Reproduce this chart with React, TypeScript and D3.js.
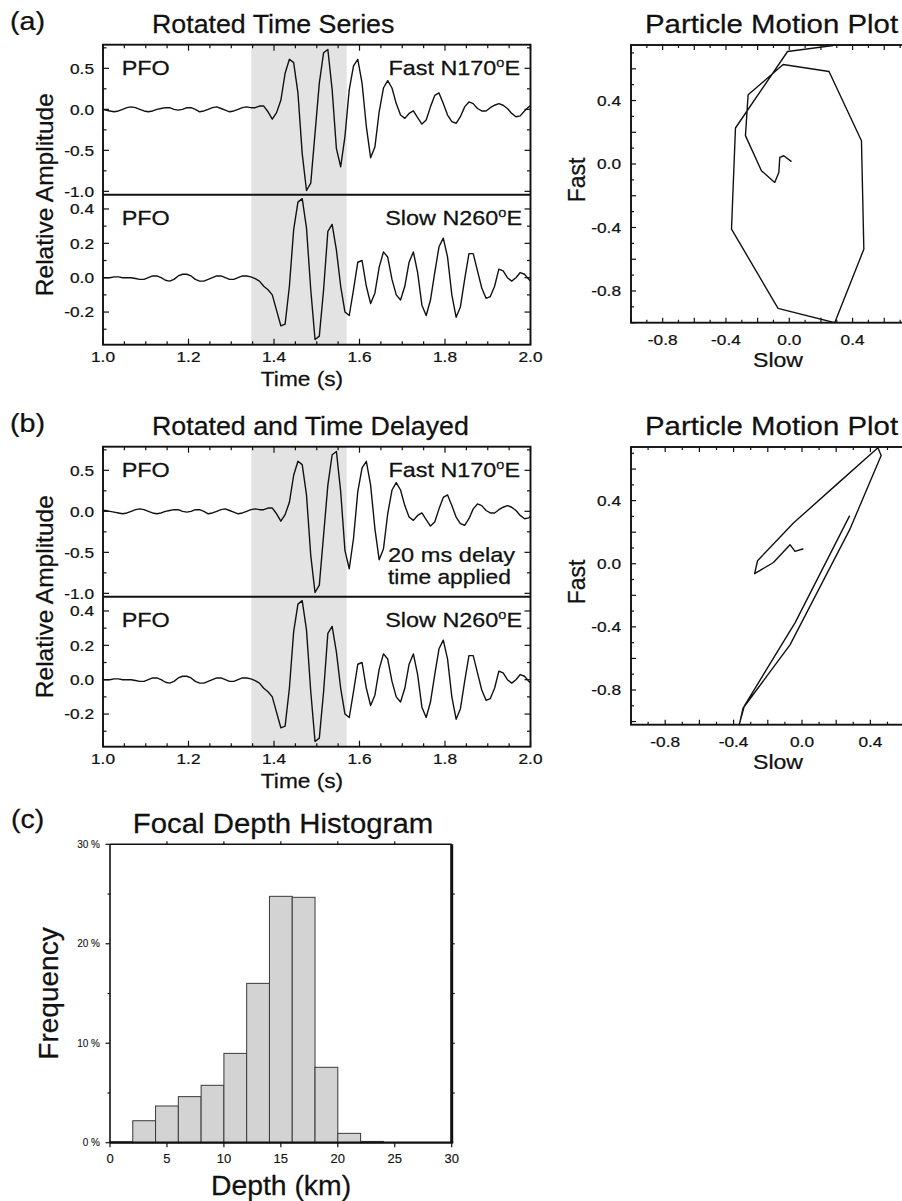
import React from "react";
import * as d3 from "d3";

const FONT = "'Liberation Sans', Arial, Helvetica, sans-serif";
const INK = "#111";

// ---------------- data ----------------
// Rotated seismograms, station PFO, sampled every 10 ms
const SAMPLE_DT = 0.01;
const FAST_T0 = 0.976; // time of first fast sample (s)
const SLOW_T0 = 0.996; // time of first slow sample (s)
const DELAY_S = 0.02; // delay applied to the fast component in (b)

const fastTrace = [
  0.01, 0.01,
  0.0, -0.01, -0.02, -0.03, -0.02, 0.0, 0.02, 0.03, 0.02, 0.0,
  -0.02, -0.03, -0.02, 0.0, 0.01, 0.02, 0.02, 0.0, -0.01, 0.0,
  0.02, 0.02, 0.0, -0.03, -0.02, 0.0, 0.02, 0.03, 0.01, -0.01,
  -0.03, -0.02, 0.0, 0.02, 0.03, 0.02, 0.02, 0.04, 0.04, -0.03,
  -0.12, -0.04, 0.11, 0.44, 0.61, 0.57, 0.2, -0.54, -0.99, -0.9,
  -0.29, 0.32, 0.69, 0.73, 0.24, -0.48, -0.7, -0.33, 0.24, 0.53,
  0.61, 0.32, -0.21, -0.59, -0.46, -0.03, 0.26, 0.35, 0.26, 0.07,
  -0.07, -0.11, -0.05, -0.02, -0.1, -0.18, -0.13, 0.03, 0.17, 0.2,
  0.07, -0.07, -0.15, -0.17, -0.09, 0.03, 0.09, 0.07, 0.01, -0.02,
  -0.02, 0.02, 0.05, 0.07, 0.05, 0.01, -0.05, -0.09, -0.08, -0.02,
  0.03, 0.06,
];

const slowTrace = [
  0.0, 0.0, 0.0, 0.005, 0.005, 0.0, 0.0, 0.0, -0.005, -0.01,
  -0.01, 0.0, 0.01, 0.01, 0.0, -0.015, -0.02, -0.01, 0.01, 0.02,
  0.02, 0.01, -0.01, -0.02, -0.02, -0.01, 0.0, 0.01, 0.01, 0.0,
  -0.01, -0.01, 0.0, 0.01, 0.01, 0.005, -0.005, -0.02, -0.05, -0.07,
  -0.1, -0.19, -0.28, -0.27, -0.05, 0.28, 0.44, 0.46, 0.29, -0.07,
  -0.36, -0.34, -0.07, 0.27, 0.31, 0.16, -0.05, -0.2, -0.22, -0.07,
  0.09, 0.1, -0.05, -0.15, -0.09, 0.06, 0.15, 0.12, -0.01, -0.1,
  -0.13, -0.05, 0.09, 0.15, 0.03, -0.16, -0.22, -0.13, 0.03, 0.18,
  0.23, 0.12, -0.1, -0.23, -0.17, -0.01, 0.14, 0.14, 0.04, -0.06,
  -0.12, -0.11, -0.05, 0.05, 0.04, 0.0, -0.02, 0.0, 0.03, 0.02,
  -0.01, -0.03,
];

const shadeWindow = [1.347, 1.57];
const timeLabels = [1.0, 1.2, 1.4, 1.6, 1.8, 2.0];
const fastLabels = [0.5, 0.0, -0.5, -1.0];
const slowLabels = [0.4, 0.2, 0.0, -0.2];

// Particle motion paths (slow = x, fast = y)
const pmASlow = [0.014, -0.035, -0.06, -0.066, -0.092, -0.176, -0.277, -0.26, -0.039, 0.251, 0.456, 0.471, 0.287, -0.071, -0.365, -0.34, -0.011, 0.277];
const pmAFast = [0.015, 0.052, 0.042, -0.053, -0.116, -0.042, 0.179, 0.436, 0.627, 0.583, 0.147, -0.537, -1.0, -0.91, -0.41, 0.227, 0.709, 0.747];
const pmBSlow = [0.008, -0.041, -0.07, -0.167, -0.277, -0.26, -0.05, 0.2, 0.444, 0.463, 0.279, -0.07, -0.345, -0.366, -0.337, -0.04, 0.279];
const pmBFast = [0.095, 0.078, 0.121, 0.008, -0.063, 0.019, 0.258, 0.5, 0.735, 0.686, 0.216, -0.514, -0.916, -1.016, -0.9, -0.373, 0.305];
const pmLabels = [-0.8, -0.4, 0.0, 0.4];

// Focal depth histogram (2 km bins, percent)
const depthBinStart = [0, 2, 4, 6, 8, 10, 12, 14, 16, 18, 20, 22, 24, 26, 28];
const depthFreq = [0.1, 2.21, 3.69, 4.63, 5.77, 8.98, 16.02, 24.77, 24.67, 7.58, 0.94, 0.13, 0, 0, 0];
const depthLabels = [0, 5, 10, 15, 20, 25, 30];
const freqLabels = [0, 10, 20, 30];

// ---------------- helpers ----------------
function stepTicks(domain, step) {
  const lo = Math.min(domain[0], domain[1]);
  const hi = Math.max(domain[0], domain[1]);
  const s = Math.ceil(lo / step - 1e-6);
  const e = Math.floor(hi / step + 1e-6);
  return d3.range(s, e + 1).map((i) => +(i * step).toFixed(6));
}
const isMult = (v, step) => Math.abs(v / step - Math.round(v / step)) < 1e-6;
const f1 = (v) => (Math.abs(v) < 1e-9 ? "0.0" : v.toFixed(1));

function Txt({ x, y, size, anchor = "start", sx = 1, rotate = 0, children, fill = INK, sw = 0.25 }) {
  let tf = `translate(${x},${y})`;
  if (rotate) tf += ` rotate(${rotate})`;
  if (sx !== 1) tf += ` scale(${sx},1)`;
  return (
    <text transform={tf} fontSize={size} textAnchor={anchor} fontFamily={FONT} fill={fill} stroke={fill} strokeWidth={sw}>
      {children}
    </text>
  );
}

function Comp({ x, y, name, deg }) {
  const s = 20;
  return (
    <text transform={`translate(${x},${y}) scale(1.17,1)`} fontSize={s} textAnchor="end" fontFamily={FONT} fill={INK} stroke={INK} strokeWidth={0.25}>
      {name} N{deg}
      <tspan fontSize={s * 0.62} dy={-s * 0.42}>o</tspan>
      <tspan dy={s * 0.42}>E</tspan>
    </text>
  );
}

// ---------------- time series ----------------
const TS_LEFT = 103;
const TS_RIGHT = 530.5;
const xTime = d3.scaleLinear().domain([1, 2]).range([TS_LEFT, TS_RIGHT]);

function TimeSeriesFigure({ oy, fastShift, title, letter, id, delayNote }) {
  const top = 44.7 + oy;
  const mid = 194.7 + oy;
  const bot = 344.7 + oy;
  const yF = d3.scaleLinear().domain([-1.041, 0.788]).range([mid, top]);
  const yS = d3.scaleLinear().domain([-0.39, 0.483]).range([bot, mid]);
  const fastPts = fastTrace.map((v, i) => [FAST_T0 + fastShift + i * SAMPLE_DT, v]);
  const slowPts = slowTrace.map((v, i) => [SLOW_T0 + i * SAMPLE_DT, v]);
  const lineF = d3.line().x((d) => xTime(d[0])).y((d) => yF(d[1]));
  const lineS = d3.line().x((d) => xTime(d[0])).y((d) => yS(d[1]));
  const tTicks = stepTicks([1, 2], 0.05);
  const fTicks = stepTicks(yF.domain(), 0.25);
  const sTicks = stepTicks(yS.domain(), 0.1);
  const W = TS_RIGHT - TS_LEFT;
  return (
    <g>
      <defs>
        <clipPath id={`${id}-cf`}>
          <rect x={TS_LEFT} y={top} width={W} height={mid - top} />
        </clipPath>
        <clipPath id={`${id}-cs`}>
          <rect x={TS_LEFT} y={mid} width={W} height={bot - mid} />
        </clipPath>
      </defs>
      <rect x={xTime(shadeWindow[0])} y={top} width={xTime(shadeWindow[1]) - xTime(shadeWindow[0])} height={bot - top} fill="#e3e3e3" />
      <path d={lineF(fastPts)} fill="none" stroke={INK} strokeWidth={1.4} strokeLinejoin="round" clipPath={`url(#${id}-cf)`} />
      <path d={lineS(slowPts)} fill="none" stroke={INK} strokeWidth={1.4} strokeLinejoin="round" clipPath={`url(#${id}-cs)`} />
      {/* ticks */}
      <g stroke={INK} strokeWidth={1.2}>
        {tTicks.map((t) => {
          const L = isMult(t, 0.2) ? 6 : 3.5;
          return (
            <g key={`t${t}`}>
              <line x1={xTime(t)} x2={xTime(t)} y1={top} y2={top + L} />
              <line x1={xTime(t)} x2={xTime(t)} y1={bot} y2={bot - L} />
            </g>
          );
        })}
        {fTicks.map((v) => {
          const L = isMult(v, 0.5) ? 6 : 3.5;
          return (
            <g key={`f${v}`}>
              <line x1={TS_LEFT} x2={TS_LEFT + L} y1={yF(v)} y2={yF(v)} />
              <line x1={TS_RIGHT} x2={TS_RIGHT - L} y1={yF(v)} y2={yF(v)} />
            </g>
          );
        })}
        {sTicks.map((v) => {
          const L = isMult(v, 0.2) ? 6 : 3.5;
          return (
            <g key={`s${v}`}>
              <line x1={TS_LEFT} x2={TS_LEFT + L} y1={yS(v)} y2={yS(v)} />
              <line x1={TS_RIGHT} x2={TS_RIGHT - L} y1={yS(v)} y2={yS(v)} />
            </g>
          );
        })}
      </g>
      <rect x={TS_LEFT} y={top} width={W} height={bot - top} fill="none" stroke={INK} strokeWidth={1.9} />
      <line x1={TS_LEFT} x2={TS_RIGHT} y1={mid} y2={mid} stroke={INK} strokeWidth={1.9} />
      {/* tick labels */}
      {fastLabels.map((v) => (
        <Txt key={`fl${v}`} x={94} y={yF(v) + 5.2} size={15} anchor="end" sx={1.15}>{f1(v)}</Txt>
      ))}
      {slowLabels.map((v) => (
        <Txt key={`sl${v}`} x={94} y={yS(v) + 5.2} size={15} anchor="end" sx={1.15}>{f1(v)}</Txt>
      ))}
      {timeLabels.map((t) => (
        <Txt key={`tl${t}`} x={xTime(t)} y={bot + 17.5} size={15} anchor="middle" sx={1.15}>{f1(t)}</Txt>
      ))}
      <Txt x={302} y={bot + 41} size={21} anchor="middle" sx={1.08}>Time (s)</Txt>
      <Txt x={53} y={mid} size={24.5} anchor="middle" rotate={-90}>Relative Amplitude</Txt>
      <Txt x={10} y={30 + oy} size={25} sx={1.15}>{letter}</Txt>
      <Txt x={152} y={33 + oy} size={25.5} sx={1.05}>{title}</Txt>
      <Txt x={121.7} y={75 + oy} size={20} sx={1.17}>PFO</Txt>
      <Comp x={520} y={75 + oy} name="Fast" deg="170" />
      <Txt x={121.7} y={225 + oy} size={20} sx={1.17}>PFO</Txt>
      <Comp x={522} y={225 + oy} name="Slow" deg="260" />
      {delayNote && (
        <g>
          <Txt x={388} y={160 + oy} size={20} sx={1.18}>20 ms delay</Txt>
          <Txt x={388} y={182 + oy} size={20} sx={1.14}>time applied</Txt>
        </g>
      )}
    </g>
  );
}

// ---------------- particle motion ----------------
function PMPlot({ oy, xDomain, yDomain, xs, ys, id }) {
  const left = 631, right = 908;
  const top = 45 + oy, bottom = 322.7 + oy;
  const x = d3.scaleLinear().domain(xDomain).range([left, right]);
  const y = d3.scaleLinear().domain(yDomain).range([bottom, top]);
  const pts = xs.map((v, i) => [v, ys[i]]);
  const line = d3.line().x((d) => x(d[0])).y((d) => y(d[1]));
  const xt = stepTicks(xDomain, 0.1);
  const yt = stepTicks(yDomain, 0.1);
  return (
    <g>
      <defs>
        <clipPath id={`${id}-c`}>
          <rect x={left} y={top} width={right - left} height={bottom - top} />
        </clipPath>
      </defs>
      <path d={line(pts)} fill="none" stroke={INK} strokeWidth={1.4} strokeLinejoin="round" clipPath={`url(#${id}-c)`} />
      <g stroke={INK} strokeWidth={1.2}>
        {xt.map((v) => {
          const L = isMult(v, 0.2) ? 5 : 3;
          return (
            <g key={`x${v}`}>
              <line x1={x(v)} x2={x(v)} y1={top} y2={top + L} />
              <line x1={x(v)} x2={x(v)} y1={bottom} y2={bottom - L} />
            </g>
          );
        })}
        {yt.map((v) => {
          const L = isMult(v, 0.2) ? 5 : 3;
          return <line key={`y${v}`} x1={left} x2={left + L} y1={y(v)} y2={y(v)} />;
        })}
      </g>
      <rect x={left} y={top} width={right - left} height={bottom - top} fill="none" stroke={INK} strokeWidth={1.9} />
      {pmLabels.map((v) => (
        <Txt key={`xl${v}`} x={x(v)} y={bottom + 22.5} size={15} anchor="middle" sx={1.15}>{f1(v)}</Txt>
      ))}
      {pmLabels.map((v) => (
        <Txt key={`yl${v}`} x={621} y={y(v) + 5.2} size={15} anchor="end" sx={1.15}>{f1(v)}</Txt>
      ))}
      <Txt x={778} y={bottom + 44} size={21} anchor="middle" sx={1.1}>Slow</Txt>
      <Txt x={585} y={180 + oy} size={23} anchor="middle" rotate={-90}>Fast</Txt>
      <Txt x={645} y={33 + oy} size={26} sx={1.13}>Particle Motion Plot</Txt>
    </g>
  );
}

// ---------------- histogram ----------------
function Histogram() {
  const left = 110, right = 451.7, top = 844.3, bottom = 1142.7;
  const x = d3.scaleLinear().domain([0, 30]).range([left, right]);
  const y = d3.scaleLinear().domain([0, 30]).range([bottom, top]);
  return (
    <g>
      {depthBinStart.map((b, i) =>
        depthFreq[i] > 0 ? (
          <rect key={b} x={x(b)} y={y(depthFreq[i])} width={x(b + 2) - x(b)} height={y(0) - y(depthFreq[i])} fill="#d3d3d3" stroke="#3a3a3a" strokeWidth={1} />
        ) : null
      )}
      <g stroke={INK} strokeWidth={1.2}>
        {depthLabels.map((v) => (
          <line key={`b${v}`} x1={x(v)} x2={x(v)} y1={bottom} y2={bottom + 4.5} />
        ))}
        {depthLabels.filter((v) => v > 0 && v < 30).map((v) => (
          <line key={`t${v}`} x1={x(v)} x2={x(v)} y1={top} y2={top - 3} />
        ))}
        {stepTicks([0, 30], 5).map((v) => (
          <line key={`l${v}`} x1={left} x2={left - (isMult(v, 10) ? 4.5 : 2.5)} y1={y(v)} y2={y(v)} />
        ))}
        {stepTicks([0, 30], 5).filter((v) => v > 0 && v < 30).map((v) => (
          <line key={`r${v}`} x1={right} x2={right + 3} y1={y(v)} y2={y(v)} />
        ))}
      </g>
      <line x1={left} x2={left} y1={top} y2={bottom} stroke={INK} strokeWidth={1.6} />
      <line x1={left} x2={right} y1={top} y2={top} stroke={INK} strokeWidth={1.6} />
      <line x1={left} x2={right + 1.5} y1={bottom} y2={bottom} stroke={INK} strokeWidth={2.2} />
      <line x1={right} x2={right} y1={top} y2={bottom} stroke={INK} strokeWidth={3} />
      {freqLabels.map((v) => (
        <Txt key={`fl${v}`} x={100} y={y(v) + 3.5} size={10} anchor="end" sw={0.1}>{`${v} %`}</Txt>
      ))}
      {depthLabels.map((v) => (
        <Txt key={`dl${v}`} x={x(v)} y={1163.3} size={13} anchor="middle" sw={0.15}>{v}</Txt>
      ))}
      <Txt x={281} y={1195} size={27} anchor="middle" sx={1.05}>Depth (km)</Txt>
      <Txt x={57.5} y={(top + bottom) / 2} size={28} anchor="middle" rotate={-90}>Frequency</Txt>
      <Txt x={283} y={832.7} size={28} anchor="middle" sx={1.05}>Focal Depth Histogram</Txt>
      <Txt x={11} y={828} size={25} sx={1.14}>(c)</Txt>
    </g>
  );
}

export default function App() {
  return (
    <svg width={902} height={1201} style={{ position: "absolute", left: 0, top: 0, display: "block" }}>
      <rect width={902} height={1201} fill="#fff" />
      <TimeSeriesFigure id="tsa" oy={0} fastShift={0} title="Rotated Time Series" letter="(a)" />
      <TimeSeriesFigure id="tsb" oy={402} fastShift={DELAY_S} title="Rotated and Time Delayed" letter="(b)" delayNote />
      <PMPlot id="pma" oy={0} xDomain={[-1.0, 0.75]} yDomain={[-1.0, 0.75]} xs={pmASlow} ys={pmAFast} />
      <PMPlot id="pmb" oy={402} xDomain={[-1.0, 0.62]} yDomain={[-1.02, 0.74]} xs={pmBSlow} ys={pmBFast} />
      <Histogram />
    </svg>
  );
}
